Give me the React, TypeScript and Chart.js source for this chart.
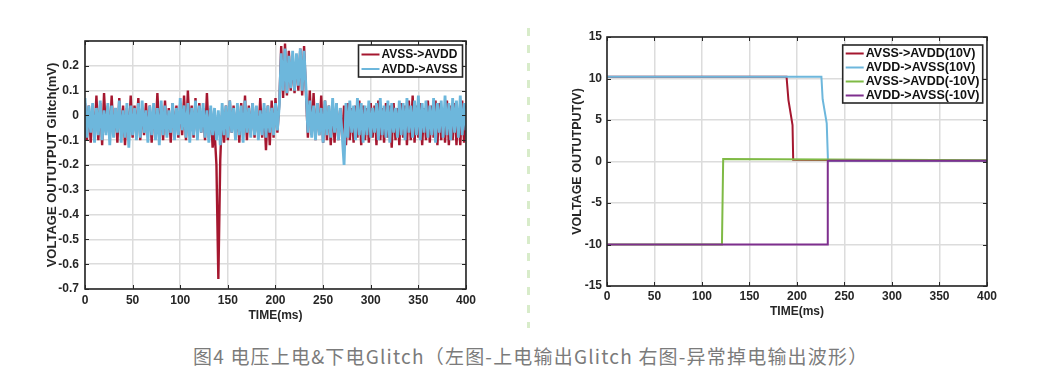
import React, { useEffect, useRef } from 'react';
import { Chart, registerables } from 'chart.js';
Chart.register(...registerables);

const FONT = '"Liberation Sans", Arial, Helvetica, sans-serif';
const INK = '#262626';
const GRID = '#dcdcdc';

// ---------- Left chart: glitch (mV), sampled every 2 ms ----------
const glitchTime: number[] = Array.from({ length: 201 }, (_, i) => i * 2);
const glitchXTicks = [0, 50, 100, 150, 200, 250, 300, 350, 400];

const avssToAvdd: number[] = [
  0.05, -0.10, 0.04, -0.11, 0.03, -0.08, 0.08, -0.10, 0.05, -0.12,
  0.09, -0.07, 0.04, -0.09, 0.08, -0.08, 0.03, -0.11, 0.07, -0.07,
  0.04, -0.12, 0.03, -0.08, 0.08, -0.09, 0.04, -0.07, 0.07, -0.10,
  0.03, -0.08, 0.05, -0.07, 0.04, -0.11, 0.03, -0.08, 0.09, -0.07,
  0.04, -0.10, 0.06, -0.08, 0.03, -0.11, 0.05, -0.07, 0.04, -0.09,
  0.05, -0.08, 0.08, -0.10, 0.10, -0.07, 0.04, -0.09, 0.07, -0.08,
  0.05, -0.07, 0.03, -0.10, 0.09, -0.09, 0.03, -0.13, -0.06, -0.20,
  -0.66, -0.18, 0.02, -0.11, 0.04, -0.10, 0.06, -0.07, 0.04, -0.09,
  0.03, -0.11, 0.05, -0.08, 0.08, -0.10, 0.04, -0.07, 0.05, -0.09,
  0.03, -0.08, 0.07, -0.09, 0.03, -0.14, 0.04, -0.12, 0.06, -0.09,
  0.07, -0.07, 0.05, 0.28, 0.07, 0.29, 0.08, 0.26, 0.10, 0.22,
  0.09, 0.24, 0.10, 0.27, 0.08, 0.28, 0.09, -0.09, 0.10, -0.08,
  0.09, -0.10, 0.05, -0.08, 0.08, -0.11, 0.06, -0.10, 0.04, -0.12,
  0.04, -0.11, 0.05, -0.10, 0.03, -0.09, 0.04, -0.12, 0.05, -0.10,
  0.03, -0.11, 0.04, -0.09, 0.06, -0.12, 0.04, -0.10, 0.03, -0.11,
  0.05, -0.09, 0.04, -0.12, 0.06, -0.10, 0.03, -0.11, 0.05, -0.09,
  0.04, -0.13, 0.05, -0.10, 0.03, -0.12, 0.05, -0.09, 0.04, -0.12,
  0.06, -0.10, 0.08, -0.11, 0.04, -0.09, 0.05, -0.12, 0.03, -0.10,
  0.06, -0.11, 0.04, -0.09, 0.06, -0.12, 0.05, -0.10, 0.03, -0.11,
  0.06, -0.12, 0.04, -0.10, 0.05, -0.12, 0.03, -0.12, 0.06, -0.11,
  0.04,
];

const avddToAvss: number[] = [
  0.07, -0.09, 0.04, -0.07, 0.05, -0.11, 0.03, -0.08, 0.06, -0.10,
  0.02, -0.08, 0.05, -0.12, 0.04, -0.09, 0.03, -0.07, 0.06, -0.11,
  0.02, -0.09, 0.05, -0.13, 0.04, -0.08, 0.03, -0.10, 0.05, -0.09,
  0.06, -0.07, 0.02, -0.11, 0.04, -0.08, 0.05, -0.10, 0.03, -0.12,
  0.06, -0.08, 0.04, -0.09, 0.02, -0.07, 0.05, -0.10, 0.03, -0.08,
  0.07, -0.06, 0.04, -0.09, 0.05, -0.11, 0.03, -0.08, 0.06, -0.10,
  0.04, -0.07, 0.05, -0.09, 0.02, -0.11, 0.04, -0.08, 0.03, -0.10,
  0.02, -0.12, 0.05, -0.08, 0.04, -0.09, 0.06, -0.07, 0.03, -0.10,
  0.05, -0.08, 0.04, -0.11, 0.06, -0.07, 0.03, -0.09, 0.05, -0.08,
  0.04, -0.10, 0.02, -0.08, 0.05, -0.09, 0.04, -0.07, 0.03, -0.08,
  0.05, -0.06, 0.04, 0.25, 0.10, 0.27, 0.09, 0.24, 0.11, 0.26,
  0.10, 0.25, 0.12, 0.27, 0.10, 0.26, 0.11, -0.07, 0.06, -0.09,
  0.04, -0.10, 0.05, -0.08, 0.03, -0.11, 0.06, -0.08, 0.04, -0.09,
  0.07, -0.07, 0.05, -0.10, 0.03, -0.08, -0.20, 0.05, -0.09, 0.06,
  -0.07, 0.04, -0.10, 0.07, -0.08, 0.05, -0.11, 0.04, -0.08, 0.06,
  -0.09, 0.03, -0.07, 0.05, -0.10, 0.07, -0.08, 0.04, -0.09, 0.06,
  -0.11, 0.05, -0.07, 0.03, -0.09, 0.06, -0.08, 0.05, -0.10, 0.07,
  -0.07, 0.04, -0.09, 0.06, -0.08, 0.08, -0.10, 0.05, -0.07, 0.06,
  -0.09, 0.04, -0.08, 0.07, -0.11, 0.05, -0.07, 0.06, -0.09, 0.08,
  -0.08, 0.05, -0.10, 0.07, -0.07, 0.06, -0.09, 0.08, -0.08, 0.05,
  -0.06,
];

// ---------- Right chart: abnormal power-down waveforms (V) ----------
const vXTicks = [0, 50, 100, 150, 200, 250, 300, 350, 400];
const red10Time = [0, 189, 191, 195.3, 196, 400];
const red10Volt = [10.2, 10.2, 7.4, 4.4, 0.2, 0.1];
const blue10Time = [0, 225.7, 227, 231.3, 232.6, 400];
const blue10Volt = [10.2, 10.2, 7.5, 4.6, 0.1, 0.1];
const greenM10Time = [0, 121, 122.3, 232, 400];
const greenM10Volt = [-10, -10, 0.3, 0.25, 0.15];
const purpleM10Time = [0, 232, 232.4, 400];
const purpleM10Volt = [-10, -10, 0.1, 0.1];

const C_RED = '#A5172F';
const C_BLUE = '#6DB7DC';
const C_GREEN = '#7FBA45';
const C_PURPLE = '#7E2F8E';

const pts = (xs: number[], ys: number[]) => xs.map((x, i) => ({ x, y: ys[i] }));

const matlabBox = {
  id: 'matlabBox',
  afterDatasetsDraw(chart: any, _a: any, opts: any) {
    const { ctx, chartArea: a, scales } = chart;
    ctx.save();
    ctx.strokeStyle = INK;
    ctx.lineWidth = 1;
    const tl = 4;
    ctx.beginPath();
    scales.x.ticks.forEach((t: any) => {
      const px = Math.round(scales.x.getPixelForValue(t.value)) + 0.5;
      ctx.moveTo(px, a.bottom); ctx.lineTo(px, a.bottom - tl);
      ctx.moveTo(px, a.top); ctx.lineTo(px, a.top + tl);
    });
    scales.y.ticks.forEach((t: any) => {
      const py = Math.round(scales.y.getPixelForValue(t.value)) + 0.5;
      ctx.moveTo(a.left, py); ctx.lineTo(a.left + tl, py);
      ctx.moveTo(a.right, py); ctx.lineTo(a.right - tl, py);
    });
    ctx.stroke();
    ctx.lineWidth = 1.6;
    ctx.strokeRect(a.left, a.top, a.right - a.left, a.bottom - a.top);

    // legend
    const L = opts && opts.legend;
    if (L) {
      ctx.fillStyle = '#ffffff';
      ctx.fillRect(L.x, L.y, L.w, L.h);
      ctx.lineWidth = 1.6;
      ctx.strokeStyle = INK;
      ctx.strokeRect(L.x, L.y, L.w, L.h);
      ctx.font = `bold ${L.size}px ${FONT}`;
      ctx.textBaseline = 'middle';
      ctx.textAlign = 'left';
      chart.data.datasets.forEach((ds: any, i: number) => {
        const cy = L.y + L.first + i * L.step;
        ctx.strokeStyle = ds.borderColor;
        ctx.lineWidth = 2;
        ctx.beginPath();
        ctx.moveTo(L.x + 3, cy); ctx.lineTo(L.x + 21, cy);
        ctx.stroke();
        ctx.fillStyle = '#111111';
        ctx.fillText(ds.label, L.x + 23, cy + 0.5);
      });
    }
    ctx.restore();
  },
};

function baseScale(min: number, max: number, step: number, fmt: (v: number) => string, extra: any) {
  return {
    type: 'linear',
    min, max,
    ticks: {
      stepSize: step,
      autoSkip: false,
      maxRotation: 0,
      color: INK,
      font: { family: FONT, size: 12, weight: 'bold' },
      callback: (v: number) => fmt(v),
      ...extra.ticks,
    },
    grid: { color: GRID, lineWidth: 1.5, drawTicks: false },
    border: { display: false },
    title: extra.title,
    afterFit: extra.afterFit,
  };
}

function leftConfig(): any {
  return {
    type: 'line',
    data: {
      datasets: [
        { label: 'AVSS->AVDD', data: pts(glitchTime, avssToAvdd), borderColor: C_RED, borderWidth: 2.4, pointRadius: 0, order: 2 },
        { label: 'AVDD->AVSS', data: pts(glitchTime, avddToAvss), borderColor: C_BLUE, borderWidth: 2.8, pointRadius: 0, order: 1 },
      ],
    },
    options: {
      responsive: false,
      animation: false,
      events: [],
      layout: { padding: { left: 0, top: 41, right: 11, bottom: 0 } },
      plugins: {
        legend: { display: false },
        tooltip: { enabled: false },
        matlabBox: { legend: { x: 358.5, y: 45, w: 104, h: 32, first: 9.5, step: 14.5, size: 12 } },
      },
      scales: {
        x: baseScale(0, 400, 50, (v) => (glitchXTicks.includes(v) ? String(v) : ''), {
          ticks: { padding: 4 },
          title: { display: true, text: 'TIME(ms)', color: INK, font: { family: FONT, size: 12, weight: 'bold' }, padding: { top: 0, bottom: 7 } },
          afterFit: (s: any) => { s.height = 41; },
        }),
        y: baseScale(-0.7, 0.3, 0.1, (v) => {
          const r = Math.round(v * 10) / 10;
          if (r > 0.25) return '';
          return r === 0 ? '0' : String(r);
        }, {
          ticks: { padding: 6 },
          title: { display: true, text: 'VOLTAGE OUTUTPUT Glitch(mV)', color: INK, font: { family: FONT, size: 13, weight: 'bold' }, padding: { top: 45, bottom: 0 } },
          afterFit: (s: any) => { s.width = 85; },
        }),
      },
    },
    plugins: [matlabBox],
  };
}

function rightConfig(): any {
  return {
    type: 'line',
    data: {
      datasets: [
        { label: 'AVSS->AVDD(10V)', data: pts(red10Time, red10Volt), borderColor: C_RED, borderWidth: 2, pointRadius: 0, order: 4 },
        { label: 'AVDD->AVSS(10V)', data: pts(blue10Time, blue10Volt), borderColor: C_BLUE, borderWidth: 2, pointRadius: 0, order: 3 },
        { label: 'AVSS->AVDD(-10V)', data: pts(greenM10Time, greenM10Volt), borderColor: C_GREEN, borderWidth: 2, pointRadius: 0, order: 2 },
        { label: 'AVDD->AVSS(-10V)', data: pts(purpleM10Time, purpleM10Volt), borderColor: C_PURPLE, borderWidth: 2, pointRadius: 0, order: 1 },
      ],
    },
    options: {
      responsive: false,
      animation: false,
      events: [],
      layout: { padding: { left: 0, top: 37, right: 11.5, bottom: 0 } },
      plugins: {
        legend: { display: false },
        tooltip: { enabled: false },
        matlabBox: { legend: { x: 302.7, y: 45, w: 140, h: 58, first: 8.5, step: 14, size: 12.5 } },
      },
      scales: {
        x: baseScale(0, 400, 50, (v) => (vXTicks.includes(v) ? String(v) : ''), {
          ticks: { padding: 3 },
          title: { display: true, text: 'TIME(ms)', color: INK, font: { family: FONT, size: 12, weight: 'bold' }, padding: { top: 0, bottom: 11 } },
          afterFit: (s: any) => { s.height = 44; },
        }),
        y: baseScale(-15, 15, 5, (v) => String(v), {
          ticks: { padding: 5 },
          title: { display: true, text: 'VOLTAGE OUTUTPUT(V)', color: INK, font: { family: FONT, size: 12.5, weight: 'bold' }, padding: { top: 30, bottom: 0 } },
          afterFit: (s: any) => { s.width = 67; },
        }),
      },
    },
    plugins: [matlabBox],
  };
}

function ChartCanvas({ make, left, width, height }: { make: () => any; left: number; width: number; height: number }) {
  const ref = useRef<HTMLCanvasElement | null>(null);
  useEffect(() => {
    const c = new Chart(ref.current as HTMLCanvasElement, make());
    return () => c.destroy();
  }, []);
  return (
    <canvas
      ref={ref}
      width={width}
      height={height}
      style={{ position: 'absolute', left, top: 0, width, height }}
    />
  );
}

export default function App() {
  return (
    <div style={{ position: 'absolute', left: 0, top: 0, width: 1043, height: 390, background: '#ffffff', overflow: 'hidden' }}>
      <ChartCanvas make={leftConfig} left={0} width={480} height={330} />
      <div
        style={{
          position: 'absolute', left: 527, top: 28, width: 3, height: 300,
          background: 'repeating-linear-gradient(to bottom, #d8ecca 0px, #d8ecca 8px, transparent 8px, transparent 17.3px)',
        }}
      />
      <ChartCanvas make={rightConfig} left={540} width={460} height={330} />
      <div
        style={{
          position: 'absolute', left: 193, top: 344, whiteSpace: 'nowrap',
          fontFamily: '"Noto Sans CJK SC", "Noto Sans", sans-serif', fontSize: 19, lineHeight: '24px',
          letterSpacing: '1.2px', color: '#7b7b7b',
        }}
      >
        图4 电压上电&amp;下电Glitch（左图-上电输出Glitch 右图-异常掉电输出波形）
      </div>
    </div>
  );
}
